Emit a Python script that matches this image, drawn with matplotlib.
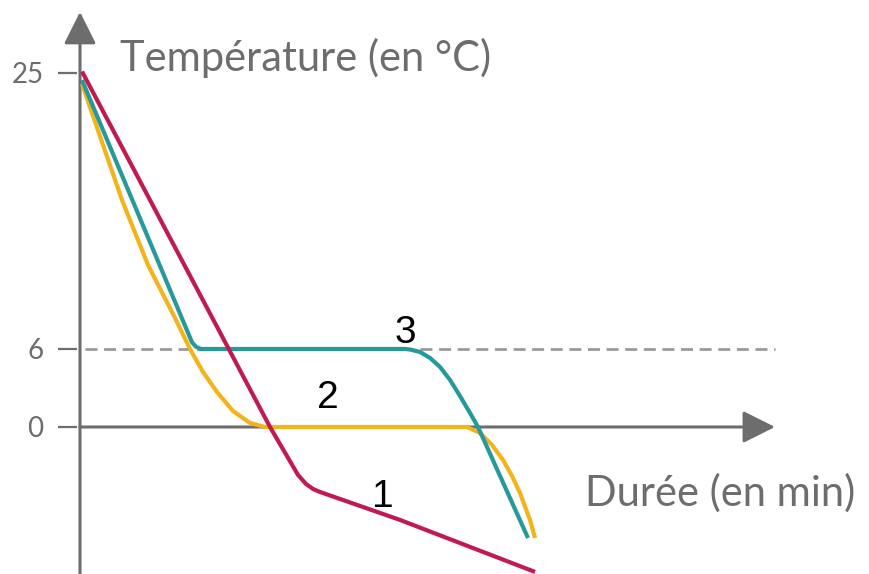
import numpy as np
import matplotlib
matplotlib.use("Agg")
import matplotlib.pyplot as plt

# curve 1 (red), 2 (orange), 3 (teal): time (arbitrary min), temperature (degC)
red_t = [0.2, 19.0, 21.8, 22.6, 23.3, 24.0, 32.0, 45.5]
red_T = [25.1, 0.0, -3.69, -4.38, -4.77, -5.0, -7.15, -11.15]

orange_t = [0.2, 4.2, 6.8, 9.6, 11.0, 12.3, 13.7, 15.3, 17.0, 18.5,
            38.7, 40.0, 41.2, 42.3, 43.2, 44.0, 45.0, 45.5]
orange_T = [24.24, 16.25, 11.78, 8.0, 6.0, 4.23, 2.69, 1.23, 0.31, 0.0,
            0.0, -0.46, -1.38, -2.54, -3.77, -5.08, -7.15, -8.54]

teal_t = [0.2, 11.2, 11.6, 12.1, 32.5, 33.0, 34.0, 35.0, 36.0, 37.0, 38.0, 39.0, 39.8, 44.8]
teal_T = [24.51, 6.46, 6.15, 6.0, 6.0, 5.96, 5.77, 5.31, 4.62, 3.62, 2.38, 1.08, 0.0, -8.54]

yticks = [0, 6, 25]
ytick_labels = ["0", "6", "25"]
curve_labels = ["1", "2", "3"]

GREY = "#6d6d6d"
RED = "#c01a4f"
ORANGE = "#f2b31b"
TEAL = "#26999b"


# the original is not drawn to scale: 0-6 is stretched compared to 6-25
def fwd(y):
    y = np.asarray(y, dtype=float)
    return np.where(y < 6, y * 13.0, 78.0 + (y - 6) * 14.53)


def inv(v):
    v = np.asarray(v, dtype=float)
    return np.where(v < 78.0, v / 13.0, 6 + (v - 78.0) / 14.53)


fig = plt.figure(figsize=(8.7, 5.74), dpi=100)
ax = fig.add_axes([77 / 870, 0, 1 - 77 / 870, 1])
ax.set_yscale("function", functions=(fwd, inv))
ax.set_xlim(-0.3, 79)
ax.set_ylim(-11.31, 30.02)

for s in ax.spines.values():
    s.set_visible(False)
ax.set_xticks([])
ax.set_yticks(yticks)
ax.set_yticklabels(ytick_labels, fontsize=20, color=GREY, family=["Lato", "DejaVu Sans"])
ax.tick_params(axis="y", direction="out", length=14, width=1.6, color=GREY, pad=10)
ax.yaxis.set_minor_locator(matplotlib.ticker.NullLocator())

# axes with arrows
ax.annotate("", xy=(0, 29.2), xytext=(0, -11.5),
            arrowprops=dict(arrowstyle="-|>,head_length=0.9,head_width=0.45",
                            color=GREY, lw=2.2, shrinkA=0, shrinkB=0, mutation_scale=22),
            annotation_clip=False)
ax.annotate("", xy=(69.5, 0), xytext=(0, 0),
            arrowprops=dict(arrowstyle="-|>,head_length=0.9,head_width=0.45",
                            color=GREY, lw=2.2, shrinkA=0, shrinkB=0, mutation_scale=22))

ax.hlines(6, 0.5, 69.5, colors="#9a9a9a", lw=2, linestyles=(0, (4.3, 2.4)), zorder=1)

ax.plot(orange_t, orange_T, color=ORANGE, lw=3, solid_capstyle="butt", solid_joinstyle="round", zorder=3)
ax.plot(teal_t, teal_T, color=TEAL, lw=3, solid_capstyle="butt", solid_joinstyle="round", zorder=4)
ax.plot(red_t, red_T, color=RED, lw=3, solid_capstyle="butt", solid_joinstyle="round", zorder=5)

lab_font = ["Liberation Sans", "DejaVu Sans"]
ax.text(30.3, -5.38, curve_labels[0], fontsize=28, color="black", ha="center", va="center", family=lab_font, zorder=6)
ax.text(24.8, 2.23, curve_labels[1], fontsize=28, color="black", ha="center", va="center", family=lab_font, zorder=6)
ax.text(32.5, 7.1, curve_labels[2], fontsize=28, color="black", ha="center", va="center", family=lab_font, zorder=6)

ax.text(4.0, 26.03, "Température (en °C)", fontsize=30, color=GREY, ha="left", va="center",
        family=["Lato", "DejaVu Sans"])
ax.text(50.5, -5.08, "Durée (en min)", fontsize=30, color=GREY, ha="left", va="center",
        family=["Lato", "DejaVu Sans"])

fig.savefig("out.png", dpi=100)
